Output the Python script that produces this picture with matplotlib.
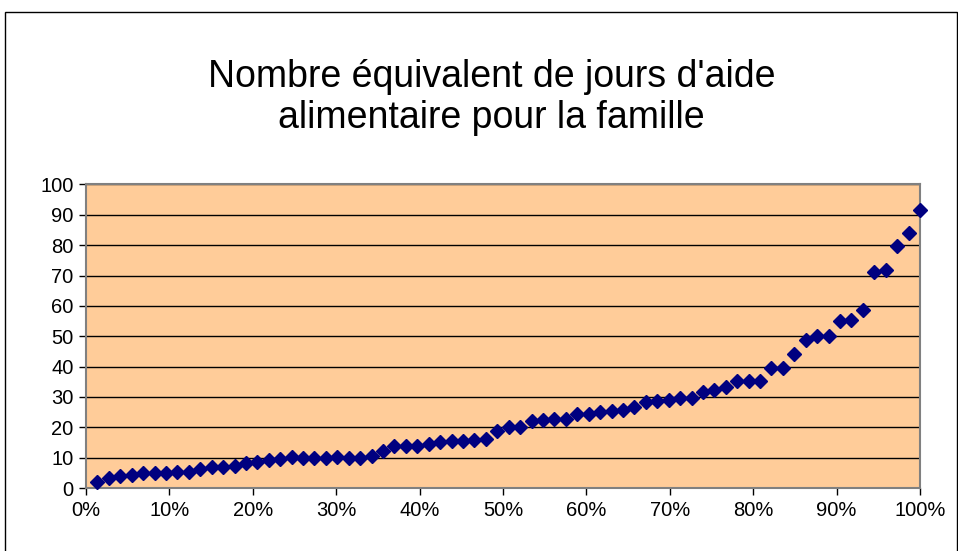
import numpy as np
import matplotlib
matplotlib.use("Agg")
import matplotlib.pyplot as plt
from matplotlib.patches import Rectangle
from matplotlib.ticker import FuncFormatter

plt.rcParams['font.family'] = ['Liberation Sans', 'DejaVu Sans']

title = "Nombre équivalent de jours d'aide\nalimentaire pour la famille"

# cumulative share of families (x) and equivalent days of food aid (y)
n_points = 73
share = np.arange(1, n_points + 1) / n_points
days = [2, 3.4, 3.9, 4.4, 4.8, 5.1, 5.1, 5.3, 5.3, 6.1,
        7, 7, 7.3, 8.2, 8.6, 9.1, 9.7, 10.1, 10, 10,
        10, 10.1, 10, 10, 10.7, 12.3, 13.8, 13.7, 14, 14.6,
        15.1, 15.4, 15.4, 15.7, 16.2, 18.9, 20, 20.2, 22.2, 22.4,
        22.7, 22.8, 24.3, 24.3, 25.1, 25.3, 25.6, 26.7, 28.3, 28.6,
        29.1, 29.5, 29.8, 31.6, 32.4, 33.4, 35.3, 35.3, 35.3, 39.6,
        39.6, 44, 48.9, 50, 50, 55, 55.5, 58.5, 71.2, 71.7,
        79.7, 84, 91.5]

y_ticks = list(range(0, 101, 10))
x_ticks = [i / 10 for i in range(11)]

fig = plt.figure(figsize=(9.58, 5.51), dpi=100)
fig.patch.set_facecolor('white')
# outer chart border
fig.add_artist(Rectangle((5 / 958, -0.01), 951.5 / 958, (551 - 12) / 551 + 0.01,
                         transform=fig.transFigure, fill=False,
                         edgecolor='black', linewidth=1.0))

ax = fig.add_axes([86 / 958, (551 - 488) / 551, (920 - 86) / 958, (488 - 184.5) / 551])
ax.set_facecolor('#FFCC99')
ax.set_xlim(0, 1)
ax.set_ylim(0, 100)
ax.set_yticks(y_ticks)
ax.set_xticks(x_ticks)
ax.xaxis.set_major_formatter(FuncFormatter(lambda v, p: f"{int(round(v * 100))}%"))
ax.yaxis.grid(True, color='black', linewidth=1.0)
ax.set_axisbelow(True)
for side in ['top', 'right', 'left', 'bottom']:
    ax.spines[side].set_color('#808080')
    ax.spines[side].set_linewidth(1.5)
ax.tick_params(axis='both', direction='out', length=5, width=1, color='black',
               labelsize=14.5, labelcolor='black', pad=4)

ax.plot(share, days, linestyle='none', marker='D', markersize=7.2,
        color='#000080', markeredgecolor='#000080', clip_on=False, zorder=5)

fig.text(0.513, 0.823, title, ha='center', va='center', fontsize=27,
         linespacing=1.2, color='black')

fig.savefig('out.png', dpi=100)
